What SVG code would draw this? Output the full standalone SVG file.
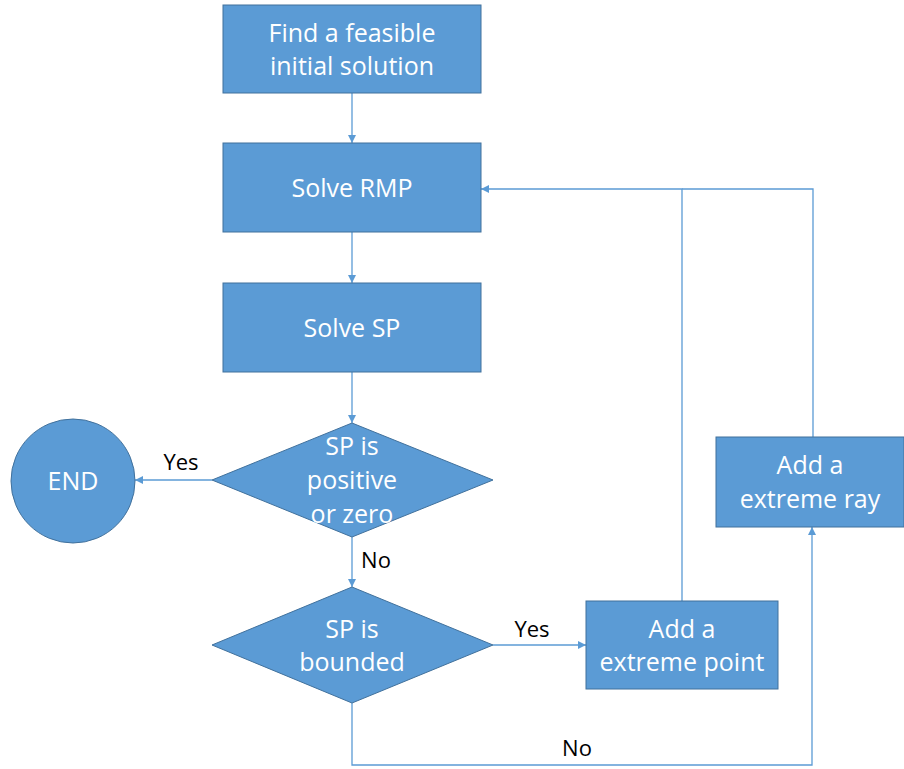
<svg xmlns="http://www.w3.org/2000/svg" width="904" height="769" viewBox="0 0 904 769">
<defs>
<marker id="ah" viewBox="0 0 10 10" refX="10" refY="5" markerWidth="8" markerHeight="8" markerUnits="userSpaceOnUse" orient="auto">
<path d="M0,0 L10,5 L0,10 z" fill="#5B9BD5"/>
</marker>
<style>
.shape{fill:#5B9BD5;stroke:#41719C;stroke-width:1}
.t{font-family:"Open Sans","Liberation Sans",sans-serif;font-size:25px;fill:#FFFFFF;text-anchor:middle}
.lbl{font-family:"Open Sans","Liberation Sans",sans-serif;font-size:22px;fill:#000000;text-anchor:middle}
.c{fill:none;stroke:#5B9BD5;stroke-width:1.3}
</style>
</defs>
<rect width="904" height="769" fill="#FFFFFF"/>
<g id="connectors">
<line class="c" x1="352" y1="93" x2="352" y2="143" marker-end="url(#ah)"/>
<line class="c" x1="352" y1="232" x2="352" y2="283" marker-end="url(#ah)"/>
<line class="c" x1="352" y1="372" x2="352" y2="423" marker-end="url(#ah)"/>
<line class="c" x1="212" y1="480" x2="135" y2="480" marker-end="url(#ah)"/>
<line class="c" x1="352" y1="537" x2="352" y2="587" marker-end="url(#ah)"/>
<line class="c" x1="493" y1="645" x2="586" y2="645" marker-end="url(#ah)"/>
<polyline class="c" points="682,601 682,189 481,189" marker-end="url(#ah)"/>
<polyline class="c" points="813,437 813,189 682,189"/>
<polyline class="c" points="352,703 352,765 812,765 812,527" marker-end="url(#ah)"/>
<text class="lbl" x="181" y="470">Yes</text>
<text class="lbl" x="376" y="568">No</text>
<text class="lbl" x="532" y="637">Yes</text>
<text class="lbl" x="577" y="756">No</text>
</g>
<g id="find">
<rect class="shape" x="223" y="5" width="258" height="88"/>
<text class="t" x="352" y="42">Find a feasible</text>
<text class="t" x="352" y="75">initial solution</text>
</g>
<g id="rmp">
<rect class="shape" x="223" y="143" width="258" height="89"/>
<text class="t" x="352" y="197">Solve RMP</text>
</g>
<g id="sp">
<rect class="shape" x="223" y="283" width="258" height="89"/>
<text class="t" x="352" y="337">Solve SP</text>
</g>
<g id="d1">
<polygon class="shape" points="352,423 493,480 352,537 212,480"/>
<text class="t" x="352" y="455">SP is</text>
<text class="t" x="352" y="489">positive</text>
<text class="t" x="352" y="523">or zero</text>
</g>
<g id="end">
<circle class="shape" cx="73" cy="481" r="62"/>
<text class="t" x="73" y="490">END</text>
</g>
<g id="d2">
<polygon class="shape" points="352,587 493,645 352,703 212,645"/>
<text class="t" x="352" y="638">SP is</text>
<text class="t" x="352" y="671">bounded</text>
</g>
<g id="point">
<rect class="shape" x="586" y="601" width="192" height="88"/>
<text class="t" x="682" y="638">Add a</text>
<text class="t" x="682" y="671">extreme point</text>
</g>
<g id="ray">
<rect class="shape" x="716" y="437" width="188" height="90"/>
<text class="t" x="810" y="474">Add a</text>
<text class="t" x="810" y="508">extreme ray</text>
</g>
</svg>
